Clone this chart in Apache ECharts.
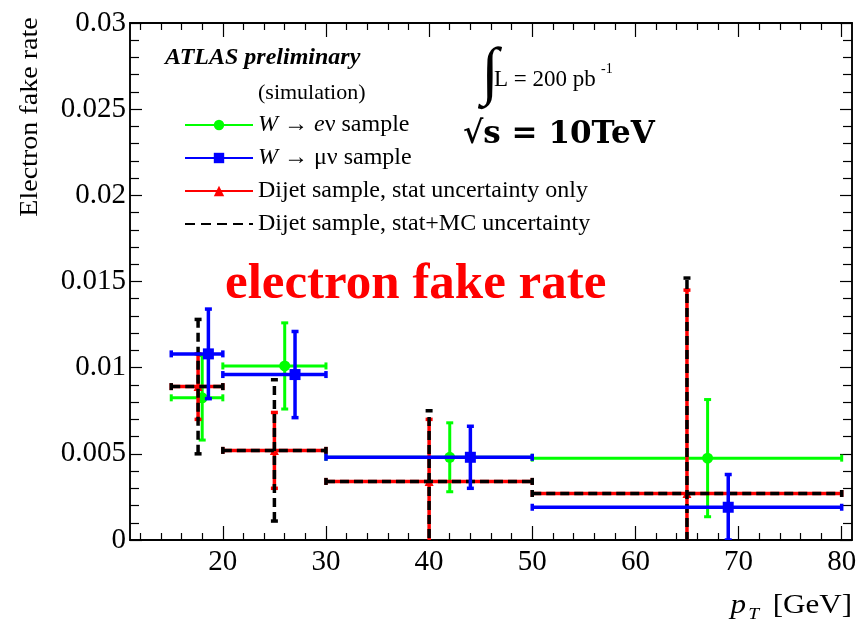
<!DOCTYPE html>
<html>
<head>
<meta charset="utf-8">
<script src="https://cdn.jsdelivr.net/npm/echarts@6/dist/echarts.min.js"></script>
<style>
html, body { margin: 0; padding: 0; background: #fff; }
#main { width: 856px; height: 630px; }
</style>
</head>
<body>
<div id="main"></div>
<script>
// pT bins [GeV]
var binLo = [15, 20, 30, 50];
var binHi = [20, 30, 50, 80];

// W -> e nu sample
var xEnu = [18, 26, 42, 67];
var yEnu = [0.00825, 0.0101, 0.0048, 0.00475];
var errEnu = [0.00245, 0.0025, 0.002, 0.0034];

// W -> mu nu sample
var xMunu = [18.6, 27, 44, 69];
var yMunu = [0.0108, 0.0096, 0.0048, 0.0019];
var errMunu = [0.0026, 0.0025, 0.0018, 0.0019];

// Dijet sample
var xDijet = [17.6, 25, 40, 65];
var yDijet = [0.0089, 0.0052, 0.0034, 0.0027];
var errStat = [0.0019, 0.0022, 0.0036, 0.0118];
var errTotal = [0.0039, 0.0041, 0.0041, 0.0125];

var xLabels = [20, 30, 40, 50, 60, 70, 80];
var xMinor = [];
for (var t = 12; t <= 80; t += 2) { if (t % 10 != 0) xMinor.push(t); }

var nameEnu = 'W → eν sample';
var nameMunu = 'W → μν sample';
var nameStat = 'Dijet sample, stat uncertainty only';
var nameTotal = 'Dijet sample, stat+MC uncertainty';

var SERIF = '"Liberation Serif", "Times New Roman", serif';

var myChart = echarts.init(document.getElementById('main'));

function barData(xs, ys, errs) {
    return xs.map(function (x, i) {
        return [x, ys[i], binLo[i], binHi[i], ys[i] - errs[i], ys[i] + errs[i]];
    });
}
function markerData(xs, ys) {
    var out = [];
    xs.forEach(function (x, i) {
        if (i > 0) out.push([null, null]);
        out.push([x, ys[i]]);
    });
    return out;
}

function errorBars(color, width, dash) {
    return function (params, api) {
        var x = api.value(0), y = api.value(1);
        var pl = api.coord([api.value(2), y]);
        var pr = api.coord([api.value(3), y]);
        var pb = api.coord([x, api.value(4)]);
        var pt = api.coord([x, api.value(5)]);
        var cap = 3.5;
        function st(d) { return { stroke: color, lineWidth: width, lineDash: d ? dash : null, fill: null }; }
        return {
            type: 'group',
            children: [
                { type: 'line', shape: { x1: pl[0], y1: pl[1], x2: pr[0], y2: pr[1] }, style: st(true) },
                { type: 'line', shape: { x1: pb[0], y1: pb[1], x2: pt[0], y2: pt[1] }, style: st(true) },
                { type: 'line', shape: { x1: pl[0], y1: pl[1] - cap, x2: pl[0], y2: pl[1] + cap }, style: st(false) },
                { type: 'line', shape: { x1: pr[0], y1: pr[1] - cap, x2: pr[0], y2: pr[1] + cap }, style: st(false) },
                { type: 'line', shape: { x1: pb[0] - cap, y1: pb[1], x2: pb[0] + cap, y2: pb[1] }, style: st(false) },
                { type: 'line', shape: { x1: pt[0] - cap, y1: pt[1], x2: pt[0] + cap, y2: pt[1] }, style: st(false) }
            ]
        };
    };
}

function xAxisDef(pos, ticks, len, labels) {
    return {
        type: 'value', min: 11, max: 81, position: pos,
        axisLine: { show: true, onZero: false, lineStyle: { color: '#000', width: 1.5 } },
        splitLine: { show: false },
        axisTick: { show: true, inside: true, length: len, customValues: ticks, lineStyle: { color: '#000', width: 1.2 } },
        axisLabel: labels ? { show: true, customValues: xLabels, margin: 8, fontFamily: SERIF, fontSize: 29, color: '#000' } : { show: false }
    };
}
function yAxisDef(pos, labels) {
    return {
        type: 'value', min: 0, max: 0.03, interval: 0.005, position: pos,
        axisLine: { show: true, onZero: false, lineStyle: { color: '#000', width: 1.5 } },
        splitLine: { show: false },
        axisTick: { show: true, inside: true, length: 12, lineStyle: { color: '#000', width: 1.2 } },
        minorTick: { show: true, splitNumber: 5, length: 9, lineStyle: { color: '#000', width: 1.2 } },
        axisLabel: labels ? { show: true, margin: 4, fontFamily: SERIF, fontSize: 29, color: '#000' } : { show: false }
    };
}

var option = {
    animation: false,
    backgroundColor: '#fff',
    grid: { left: 130, right: 4, top: 23, bottom: 90, show: true, borderColor: '#000', borderWidth: 1.5, containLabel: false, outerBoundsMode: 'none' },
    xAxis: [
        xAxisDef('bottom', xLabels, 14, true),
        xAxisDef('bottom', xMinor, 7, false),
        xAxisDef('top', xLabels, 14, false),
        xAxisDef('top', xMinor, 7, false)
    ],
    yAxis: [
        yAxisDef('left', true),
        yAxisDef('right', false)
    ],
    legend: {
        data: [nameEnu, nameMunu, nameStat, { name: nameTotal, itemStyle: { opacity: 0 } }],
        orient: 'vertical',
        left: 179,
        top: 108,
        itemWidth: 68,
        itemHeight: 13,
        itemGap: 9,
        selectedMode: false,
        textStyle: {
            fontFamily: SERIF, fontSize: 24, color: '#000',
            rich: { i: { fontFamily: SERIF, fontSize: 24, fontStyle: 'italic', color: '#000' } }
        },
        formatter: function (name) {
            if (name == nameEnu) return '{i|W} → {i|e}ν sample';
            if (name == nameMunu) return '{i|W} → μν sample';
            return name;
        }
    },
    graphic: [
        { type: 'text', x: 165, y: 58, style: { text: 'ATLAS preliminary', font: 'italic bold 24px ' + SERIF, fill: '#000', align: 'left', verticalAlign: 'middle' } },
        { type: 'text', x: 258, y: 93, style: { text: '(simulation)', font: '22px ' + SERIF, fill: '#000', align: 'left', verticalAlign: 'middle' } },
        { type: 'text', x: 490, y: 75, style: { text: '∫', font: '64px ' + SERIF, fill: '#000', align: 'center', verticalAlign: 'middle' } },
        { type: 'text', x: 494, y: 80, style: { text: 'L = 200 pb', font: '23px ' + SERIF, fill: '#000', align: 'left', verticalAlign: 'middle' } },
        { type: 'text', x: 601, y: 69, style: { text: '-1', font: '14px ' + SERIF, fill: '#000', align: 'left', verticalAlign: 'middle' } },
        { type: 'text', x: 463, y: 135, style: { text: '√s = 10TeV', font: 'bold 31px "DejaVu Serif", serif', fill: '#000', align: 'left', verticalAlign: 'middle' } },
        { type: 'text', x: 225, y: 285, style: { text: 'electron fake rate', font: 'bold 51px ' + SERIF, fill: '#ff0000', align: 'left', verticalAlign: 'middle' } },
        { type: 'text', x: 30, y: 117, rotation: Math.PI / 2, scaleX: 1.08, style: { text: 'Electron fake rate', font: '26px ' + SERIF, fill: '#000', align: 'center', verticalAlign: 'middle' } },
        { type: 'text', x: 852, y: 606, scaleX: 1.15, style: {
            text: '{p|p}{t|T} [GeV]', align: 'right', verticalAlign: 'middle', font: '27px ' + SERIF, fill: '#000',
            rich: {
                p: { fontFamily: SERIF, fontSize: 27, fontStyle: 'italic', fill: '#000' },
                t: { fontFamily: SERIF, fontSize: 17, fontStyle: 'italic', fill: '#000', padding: [18, 5, 0, 2] }
            }
        } }
    ],
    series: [
        { name: 'enuBars', type: 'custom', z: 2, clip: true, renderItem: errorBars('#00ff00', 3, null), data: barData(xEnu, yEnu, errEnu) },
        { name: nameEnu, type: 'line', z: 2.5, color: '#00ff00', symbol: 'circle', symbolSize: 11, showSymbol: true,
          lineStyle: { width: 3, color: '#00ff00' }, itemStyle: { color: '#00ff00' }, data: markerData(xEnu, yEnu) },
        { name: nameStat, type: 'line', z: 2.8, color: '#ff0000', symbol: 'triangle', symbolSize: 9, showSymbol: true,
          lineStyle: { width: 3, color: '#ff0000' }, itemStyle: { color: '#ff0000' }, data: markerData(xDijet, yDijet) },
        { name: 'statBars', type: 'custom', z: 3, clip: true, renderItem: errorBars('#ff0000', 3.5, null), data: barData(xDijet, yDijet, errStat) },
        { name: 'totalBars', type: 'custom', z: 3.2, clip: true, renderItem: errorBars('#000000', 3.5, [9, 5]), data: barData(xDijet, yDijet, errTotal) },
        { name: nameTotal, type: 'line', z: 3.2, color: '#000', symbol: 'none', lineStyle: { width: 3, color: '#000', type: [10, 6] }, data: [] },
        { name: 'munuBars', type: 'custom', z: 4, clip: true, renderItem: errorBars('#0000ff', 3.5, null), data: barData(xMunu, yMunu, errMunu) },
        { name: nameMunu, type: 'line', z: 4.5, color: '#0000ff', symbol: 'rect', symbolSize: 11, showSymbol: true,
          lineStyle: { width: 3.5, color: '#0000ff' }, itemStyle: { color: '#0000ff' }, data: markerData(xMunu, yMunu) }
    ]
};

myChart.setOption(option);
</script>
</body>
</html>
